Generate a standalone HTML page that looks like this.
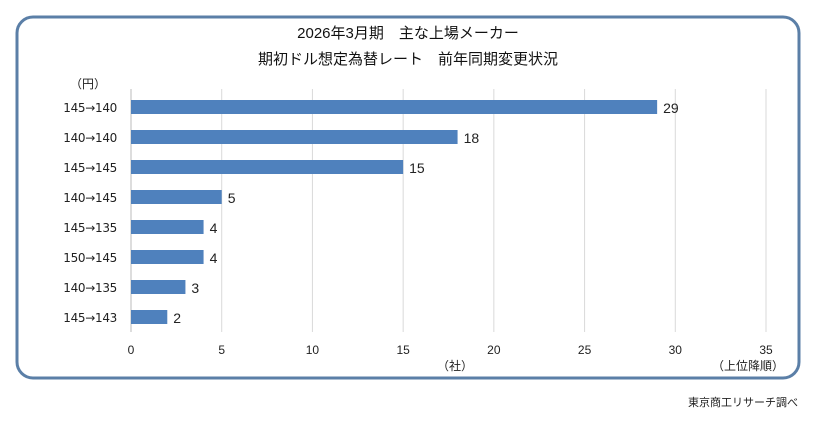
<!DOCTYPE html>
<html><head><meta charset="utf-8"><style>
body{margin:0;background:#fff;width:814px;height:416px;overflow:hidden;font-family:"Liberation Sans","Noto Sans CJK JP",sans-serif;}
</style></head><body>
<svg width="814" height="416" style="font-family:'Liberation Sans','Noto Sans CJK JP',sans-serif">
<rect x="17" y="17" width="782" height="361" rx="16" fill="#fff" stroke="#5b7fa7" stroke-width="3"/>
<text x="408" y="38" text-anchor="middle" font-size="15" fill="#111">2026年3月期　主な上場メーカー</text>
<text x="408" y="64" text-anchor="middle" font-size="15" fill="#111">期初ドル想定為替レート　前年同期変更状況</text>
<text x="88" y="88" text-anchor="middle" font-size="12" fill="#222">（円）</text>
<text x="455" y="370" text-anchor="middle" font-size="12" fill="#222">（社）</text>
<text x="748" y="370" text-anchor="middle" font-size="12" fill="#222">（上位降順）</text>
<text x="798" y="406" text-anchor="end" font-size="11" fill="#222">東京商工リサーチ調べ</text>
<g id="plot"></g>
</svg>
<script>
const categories=["145→140","140→140","145→145","140→145","145→135","150→145","140→135","145→143"];
const values=[29,18,15,5,4,4,3,2];
const ticks=[0,5,10,15,20,25,30,35];
const x0=131,x1=766,xmax=35,yTop=92,rowH=30;
const xs=v=>x0+(v/xmax)*(x1-x0);
const ys=i=>yTop+i*rowH+15;
const g=document.getElementById('plot');
const NS='http://www.w3.org/2000/svg';
function mk(t,a){const e=document.createElementNS(NS,t);for(const k in a)e.setAttribute(k,a[k]);g.appendChild(e);return e;}
ticks.forEach(t=>{
 const l=mk('line',{x1:xs(t),x2:xs(t),y1:89,y2:332,stroke:t===0?'#bbb':'#d9d9d9','stroke-width':1});
 
 
 const tx=mk('text',{x:xs(t),y:354,'text-anchor':'middle','font-size':12,fill:'#222'});tx.textContent=t;
 
 
});
categories.forEach((c,i)=>{
 const y=ys(i);
 const r=mk('rect',{x:xs(0),y:y-7,width:xs(values[i])-xs(0),height:14,fill:'#4f81bd'});
 
 
 const lb=mk('text',{x:117,y:y+5,'text-anchor':'end','font-size':12,fill:'#222','font-family':'DejaVu Sans, sans-serif','letter-spacing':'-0.3'});lb.textContent=c;
 
 
 const v=mk('text',{x:xs(values[i])+6,y:y+6,'font-size':14,fill:'#222'});v.textContent=values[i];
 
 
});
</script>
</body></html>
